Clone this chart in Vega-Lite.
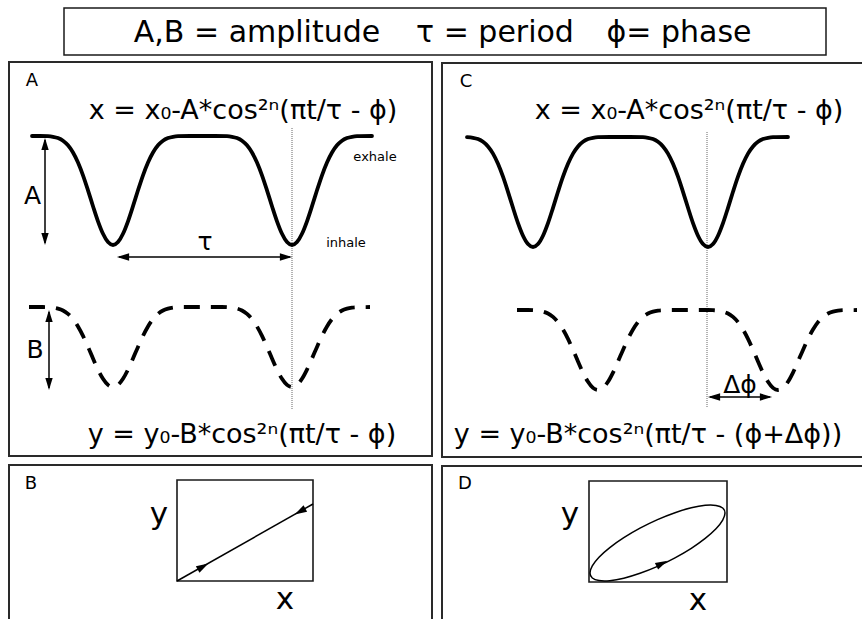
{
"$schema":"https://vega.github.io/schema/vega-lite/v6.json",
"width":862,"height":619,"padding":0,"autosize":{"type":"none"},
"background":"white",
"config":{"view":{"stroke":null}},
"datasets":{
"boxes":[
{"x":64,"y":8,"x2":826,"y2":55,"k":"title"},
{"x":9,"y":62,"x2":432,"y2":456,"k":"panel"},
{"x":442,"y":63,"x2":864,"y2":457,"k":"panel"},
{"x":9,"y":465,"x2":432,"y2":630,"k":"panel"},
{"x":442,"y":466,"x2":864,"y2":630,"k":"panel"},
{"x":177,"y":480,"x2":313,"y2":581,"k":"inner"},
{"x":589,"y":481,"x2":727,"y2":582,"k":"inner"}
],
"curves":[
{"c":"A","x":32,"y":136},{"c":"A","x":40,"y":136},{"c":"A","x":48,"y":136.2},{"c":"A","x":53,"y":136.8},{"c":"A","x":58,"y":138.1},{"c":"A","x":63,"y":140.7},{"c":"A","x":68,"y":145.3},{"c":"A","x":73,"y":152.5},{"c":"A","x":78,"y":162.5},{"c":"A","x":83,"y":175.3},{"c":"A","x":88,"y":190.3},{"c":"A","x":93,"y":206.2},{"c":"A","x":98,"y":221.3},{"c":"A","x":103,"y":233.8},{"c":"A","x":108,"y":242.1},{"c":"A","x":113,"y":245},{"c":"A","x":118,"y":242.1},{"c":"A","x":123,"y":233.8},{"c":"A","x":128,"y":221.3},{"c":"A","x":133,"y":206.2},{"c":"A","x":138,"y":190.3},{"c":"A","x":143,"y":175.3},{"c":"A","x":148,"y":162.5},{"c":"A","x":153,"y":152.5},{"c":"A","x":158,"y":145.3},{"c":"A","x":163,"y":140.7},{"c":"A","x":168,"y":138.1},{"c":"A","x":173,"y":136.8},{"c":"A","x":178,"y":136.2},{"c":"A","x":190,"y":136},{"c":"A","x":215,"y":136},{"c":"A","x":227,"y":136.2},{"c":"A","x":232,"y":136.8},{"c":"A","x":237,"y":138.1},{"c":"A","x":242,"y":140.7},{"c":"A","x":247,"y":145.3},{"c":"A","x":252,"y":152.5},{"c":"A","x":257,"y":162.5},{"c":"A","x":262,"y":175.3},{"c":"A","x":267,"y":190.3},{"c":"A","x":272,"y":206.2},{"c":"A","x":277,"y":221.3},{"c":"A","x":282,"y":233.8},{"c":"A","x":287,"y":242.1},{"c":"A","x":292,"y":245},{"c":"A","x":297,"y":242.1},{"c":"A","x":302,"y":233.8},{"c":"A","x":307,"y":221.3},{"c":"A","x":312,"y":206.2},{"c":"A","x":317,"y":190.3},{"c":"A","x":322,"y":175.3},{"c":"A","x":327,"y":162.5},{"c":"A","x":332,"y":152.5},{"c":"A","x":337,"y":145.3},{"c":"A","x":342,"y":140.7},{"c":"A","x":347,"y":138.1},{"c":"A","x":352,"y":136.8},{"c":"A","x":357,"y":136.2},{"c":"A","x":372,"y":136},
{"c":"C","x":467,"y":137.2},{"c":"C","x":473,"y":137.8},{"c":"C","x":478,"y":139.1},{"c":"C","x":483,"y":141.8},{"c":"C","x":488,"y":146.4},{"c":"C","x":493,"y":153.6},{"c":"C","x":498,"y":163.8},{"c":"C","x":503,"y":176.7},{"c":"C","x":508,"y":191.8},{"c":"C","x":513,"y":207.8},{"c":"C","x":518,"y":223.1},{"c":"C","x":523,"y":235.7},{"c":"C","x":528,"y":244.1},{"c":"C","x":533,"y":247},{"c":"C","x":538,"y":244.1},{"c":"C","x":543,"y":235.7},{"c":"C","x":548,"y":223.1},{"c":"C","x":553,"y":207.8},{"c":"C","x":558,"y":191.8},{"c":"C","x":563,"y":176.7},{"c":"C","x":568,"y":163.8},{"c":"C","x":573,"y":153.6},{"c":"C","x":578,"y":146.4},{"c":"C","x":583,"y":141.8},{"c":"C","x":588,"y":139.1},{"c":"C","x":593,"y":137.8},{"c":"C","x":598,"y":137.2},{"c":"C","x":610,"y":137},{"c":"C","x":630,"y":137},{"c":"C","x":643,"y":137.2},{"c":"C","x":648,"y":137.8},{"c":"C","x":653,"y":139.1},{"c":"C","x":658,"y":141.8},{"c":"C","x":663,"y":146.4},{"c":"C","x":668,"y":153.6},{"c":"C","x":673,"y":163.8},{"c":"C","x":678,"y":176.7},{"c":"C","x":683,"y":191.8},{"c":"C","x":688,"y":207.8},{"c":"C","x":693,"y":223.1},{"c":"C","x":698,"y":235.7},{"c":"C","x":703,"y":244.1},{"c":"C","x":708,"y":247},{"c":"C","x":713,"y":244.1},{"c":"C","x":718,"y":235.7},{"c":"C","x":723,"y":223.1},{"c":"C","x":728,"y":207.8},{"c":"C","x":733,"y":191.8},{"c":"C","x":738,"y":176.7},{"c":"C","x":743,"y":163.8},{"c":"C","x":748,"y":153.6},{"c":"C","x":753,"y":146.4},{"c":"C","x":758,"y":141.8},{"c":"C","x":763,"y":139.1},{"c":"C","x":768,"y":137.8},{"c":"C","x":773,"y":137.2},{"c":"C","x":788,"y":137},
{"c":"Ad","x":29,"y":307},{"c":"Ad","x":43,"y":307},{"c":"Ad","x":48,"y":307.2},{"c":"Ad","x":53,"y":307.6},{"c":"Ad","x":58,"y":308.6},{"c":"Ad","x":63,"y":310.5},{"c":"Ad","x":68,"y":313.9},{"c":"Ad","x":73,"y":319.1},{"c":"Ad","x":78,"y":326.5},{"c":"Ad","x":83,"y":335.9},{"c":"Ad","x":88,"y":346.9},{"c":"Ad","x":93,"y":358.5},{"c":"Ad","x":98,"y":369.6},{"c":"Ad","x":103,"y":378.8},{"c":"Ad","x":108,"y":384.9},{"c":"Ad","x":113,"y":387},{"c":"Ad","x":118,"y":384.9},{"c":"Ad","x":123,"y":378.8},{"c":"Ad","x":128,"y":369.6},{"c":"Ad","x":133,"y":358.5},{"c":"Ad","x":138,"y":346.9},{"c":"Ad","x":143,"y":335.9},{"c":"Ad","x":148,"y":326.5},{"c":"Ad","x":153,"y":319.1},{"c":"Ad","x":158,"y":313.9},{"c":"Ad","x":163,"y":310.5},{"c":"Ad","x":168,"y":308.6},{"c":"Ad","x":173,"y":307.6},{"c":"Ad","x":178,"y":307.2},{"c":"Ad","x":183,"y":307},{"c":"Ad","x":222,"y":307},{"c":"Ad","x":227,"y":307.2},{"c":"Ad","x":232,"y":307.6},{"c":"Ad","x":237,"y":308.6},{"c":"Ad","x":242,"y":310.5},{"c":"Ad","x":247,"y":313.9},{"c":"Ad","x":252,"y":319.1},{"c":"Ad","x":257,"y":326.5},{"c":"Ad","x":262,"y":335.9},{"c":"Ad","x":267,"y":346.9},{"c":"Ad","x":272,"y":358.5},{"c":"Ad","x":277,"y":369.6},{"c":"Ad","x":282,"y":378.8},{"c":"Ad","x":287,"y":384.9},{"c":"Ad","x":292,"y":387},{"c":"Ad","x":297,"y":384.9},{"c":"Ad","x":302,"y":378.8},{"c":"Ad","x":307,"y":369.6},{"c":"Ad","x":312,"y":358.5},{"c":"Ad","x":317,"y":346.9},{"c":"Ad","x":322,"y":335.9},{"c":"Ad","x":327,"y":326.5},{"c":"Ad","x":332,"y":319.1},{"c":"Ad","x":337,"y":313.9},{"c":"Ad","x":342,"y":310.5},{"c":"Ad","x":347,"y":308.6},{"c":"Ad","x":352,"y":307.6},{"c":"Ad","x":357,"y":307.2},{"c":"Ad","x":370,"y":307},
{"c":"Cd","x":517,"y":310},{"c":"Cd","x":528,"y":310},{"c":"Cd","x":533,"y":310.2},{"c":"Cd","x":538,"y":310.6},{"c":"Cd","x":543,"y":311.6},{"c":"Cd","x":548,"y":313.5},{"c":"Cd","x":553,"y":316.9},{"c":"Cd","x":558,"y":322.1},{"c":"Cd","x":563,"y":329.5},{"c":"Cd","x":568,"y":338.9},{"c":"Cd","x":573,"y":349.9},{"c":"Cd","x":578,"y":361.5},{"c":"Cd","x":583,"y":372.6},{"c":"Cd","x":588,"y":381.8},{"c":"Cd","x":593,"y":387.9},{"c":"Cd","x":598,"y":390},{"c":"Cd","x":603,"y":387.9},{"c":"Cd","x":608,"y":381.8},{"c":"Cd","x":613,"y":372.6},{"c":"Cd","x":618,"y":361.5},{"c":"Cd","x":623,"y":349.9},{"c":"Cd","x":628,"y":338.9},{"c":"Cd","x":633,"y":329.5},{"c":"Cd","x":638,"y":322.1},{"c":"Cd","x":643,"y":316.9},{"c":"Cd","x":648,"y":313.5},{"c":"Cd","x":653,"y":311.6},{"c":"Cd","x":658,"y":310.6},{"c":"Cd","x":663,"y":310.2},{"c":"Cd","x":668,"y":310},{"c":"Cd","x":688,"y":310},{"c":"Cd","x":708,"y":310},{"c":"Cd","x":713,"y":310.2},{"c":"Cd","x":718,"y":310.6},{"c":"Cd","x":723,"y":311.6},{"c":"Cd","x":728,"y":313.5},{"c":"Cd","x":733,"y":316.9},{"c":"Cd","x":738,"y":322.1},{"c":"Cd","x":743,"y":329.5},{"c":"Cd","x":748,"y":338.9},{"c":"Cd","x":753,"y":349.9},{"c":"Cd","x":758,"y":361.5},{"c":"Cd","x":763,"y":372.6},{"c":"Cd","x":768,"y":381.8},{"c":"Cd","x":773,"y":387.9},{"c":"Cd","x":778,"y":390},{"c":"Cd","x":783,"y":387.9},{"c":"Cd","x":788,"y":381.8},{"c":"Cd","x":793,"y":372.6},{"c":"Cd","x":798,"y":361.5},{"c":"Cd","x":803,"y":349.9},{"c":"Cd","x":808,"y":338.9},{"c":"Cd","x":813,"y":329.5},{"c":"Cd","x":818,"y":322.1},{"c":"Cd","x":823,"y":316.9},{"c":"Cd","x":828,"y":313.5},{"c":"Cd","x":833,"y":311.6},{"c":"Cd","x":838,"y":310.6},{"c":"Cd","x":843,"y":310.2},{"c":"Cd","x":857,"y":310}
],
"ellipse":[
{"k":0,"x":590,"y":573},{"k":1,"x":592.3,"y":578},{"k":2,"x":599,"y":580.6},{"k":3,"x":609.8,"y":580.7},{"k":4,"x":623.8,"y":578.2},{"k":5,"x":640,"y":573.3},{"k":6,"x":657.5,"y":566.4},{"k":7,"x":675,"y":557.8},{"k":8,"x":691.3,"y":548.3},{"k":9,"x":705.2,"y":538.4},{"k":10,"x":716,"y":528.8},{"k":11,"x":722.7,"y":520.1},{"k":12,"x":725,"y":513.1},{"k":13,"x":722.7,"y":508},{"k":14,"x":716,"y":505.4},{"k":15,"x":705.2,"y":505.3},{"k":16,"x":691.3,"y":507.8},{"k":17,"x":675,"y":512.7},{"k":18,"x":657.5,"y":519.6},{"k":19,"x":640,"y":528.2},{"k":20,"x":623.8,"y":537.7},{"k":21,"x":609.8,"y":547.6},{"k":22,"x":599,"y":557.2},{"k":23,"x":592.3,"y":565.9}
],
"rules":[
{"x":45,"y":140,"x2":45,"y2":243,"k":"arrow"},
{"x":49,"y":312,"x2":49,"y2":388,"k":"arrow"},
{"x":119,"y":257,"x2":290,"y2":257,"k":"arrow"},
{"x":710,"y":397,"x2":770,"y2":397,"k":"arrow"},
{"x":177,"y":581,"x2":313,"y2":504,"k":"arrow"},
{"x":292,"y":128,"x2":292,"y2":410,"k":"dotted"},
{"x":707,"y":132,"x2":707,"y2":407,"k":"dotted"}
],
"heads":[
{"x":45,"y":144,"dir":"up"},{"x":45,"y":239,"dir":"down"},
{"x":49,"y":316,"dir":"up"},{"x":49,"y":384,"dir":"down"},
{"x":123,"y":257,"dir":"left"},{"x":286,"y":257,"dir":"right"},
{"x":714,"y":397,"dir":"left"},{"x":766,"y":397,"dir":"right"},
{"x":203,"y":566.5,"dir":"ne"},{"x":300,"y":511.5,"dir":"sw"},
{"x":662,"y":563.5,"dir":"ne2"}
],
"labels":[
{"x":257,"y":33,"t":"A,B = amplitude","r":"title"},
{"x":495,"y":33,"t":"τ = period","r":"title"},
{"x":679,"y":33,"t":"ϕ= phase","r":"title"},
{"x":243,"y":111,"t":"x = x₀-A*cos²ⁿ(πt/τ - ϕ)","r":"formula"},
{"x":242,"y":435,"t":"y = y₀-B*cos²ⁿ(πt/τ - ϕ)","r":"formula"},
{"x":689,"y":111,"t":"x = x₀-A*cos²ⁿ(πt/τ - ϕ)","r":"formula"},
{"x":648,"y":435,"t":"y = y₀-B*cos²ⁿ(πt/τ - (ϕ+Δϕ))","r":"formula"},
{"x":32,"y":81,"t":"A","r":"panel"},
{"x":466,"y":82,"t":"C","r":"panel"},
{"x":31,"y":484,"t":"B","r":"panel"},
{"x":465,"y":484,"t":"D","r":"panel"},
{"x":32.5,"y":196,"t":"A","r":"amp"},
{"x":35,"y":350,"t":"B","r":"amp"},
{"x":205,"y":242,"t":"τ","r":"amp"},
{"x":740,"y":385,"t":"Δϕ","r":"amp"},
{"x":375,"y":157,"t":"exhale","r":"note"},
{"x":346,"y":243,"t":"inhale","r":"note"},
{"x":159,"y":515,"t":"y","r":"axis"},
{"x":285,"y":600,"t":"x","r":"axis"},
{"x":570,"y":515,"t":"y","r":"axis"},
{"x":698,"y":601,"t":"x","r":"axis"}
]
},
"encoding":{
"x":{"field":"x","type":"quantitative","scale":{"domain":[0,862],"nice":false,"zero":false},"axis":null},
"y":{"field":"y","type":"quantitative","scale":{"domain":[0,619],"nice":false,"zero":false,"reverse":true},"axis":null}
},
"layer":[
{"data":{"name":"boxes"},"transform":[{"filter":"datum.k == 'title'"}],
 "mark":{"type":"rect","filled":false,"stroke":"#1a1a1a","strokeWidth":1.5},
 "encoding":{"x2":{"field":"x2"},"y2":{"field":"y2"}}},
{"data":{"name":"boxes"},"transform":[{"filter":"datum.k == 'panel'"}],
 "mark":{"type":"rect","filled":false,"stroke":"#2a2a2a","strokeWidth":2},
 "encoding":{"x2":{"field":"x2"},"y2":{"field":"y2"}}},
{"data":{"name":"boxes"},"transform":[{"filter":"datum.k == 'inner'"}],
 "mark":{"type":"rect","filled":false,"stroke":"#1a1a1a","strokeWidth":1.6},
 "encoding":{"x2":{"field":"x2"},"y2":{"field":"y2"}}},
{"data":{"name":"rules"},"transform":[{"filter":"datum.k == 'dotted'"}],
 "mark":{"type":"rule","stroke":"#666","strokeWidth":1,"strokeDash":[1,1]},
 "encoding":{"x2":{"field":"x2"},"y2":{"field":"y2"}}},
{"data":{"name":"rules"},"transform":[{"filter":"datum.k == 'arrow'"}],
 "mark":{"type":"rule","stroke":"#000","strokeWidth":1.5},
 "encoding":{"x2":{"field":"x2"},"y2":{"field":"y2"}}},
{"data":{"name":"curves"},"transform":[{"filter":"datum.c == 'A' || datum.c == 'C'"}],
 "mark":{"type":"line","stroke":"#000","strokeWidth":3.8,"interpolate":"monotone","strokeCap":"round"},
 "encoding":{"detail":{"field":"c"}}},
{"data":{"name":"curves"},"transform":[{"filter":"datum.c == 'Ad' || datum.c == 'Cd'"}],
 "mark":{"type":"line","stroke":"#000","strokeWidth":3.8,"interpolate":"monotone","strokeDash":[16,11],"strokeCap":"butt"},
 "encoding":{"detail":{"field":"c"}}},
{"data":{"name":"ellipse"},
 "mark":{"type":"line","stroke":"#000","strokeWidth":1.5,"interpolate":"cardinal-closed"},
 "encoding":{"order":{"field":"k","type":"quantitative"}}},
{"data":{"name":"heads"},
 "mark":{"type":"point","filled":true,"fill":"#000","stroke":null,"opacity":1,"size":150},
 "encoding":{"shape":{"field":"dir","type":"nominal","legend":null,
   "scale":{"domain":["right","left","up","down","ne","sw","ne2"],
   "range":["M1,0L-1,-0.6L-1,0.6Z","M-1,0L1,-0.6L1,0.6Z","M0,-1L-0.6,1L0.6,1Z","M0,1L-0.6,-1L0.6,-1Z","M0.87,-0.492L-0.575,1.014L-1.165,-0.03Z","M-0.87,0.492L0.575,-1.014L1.165,0.03Z","M0.899,-0.438L-0.636,0.977L-1.162,-0.101Z"]}}}},
{"data":{"name":"labels"},"transform":[{"filter":"datum.r == 'title'"}],
 "mark":{"type":"text","font":"DejaVu Sans","fontSize":30,"align":"center","baseline":"middle","fill":"#000"},
 "encoding":{"text":{"field":"t"}}},
{"data":{"name":"labels"},"transform":[{"filter":"datum.r == 'formula'"}],
 "mark":{"type":"text","font":"DejaVu Sans","fontSize":27,"align":"center","baseline":"middle","fill":"#000"},
 "encoding":{"text":{"field":"t"}}},
{"data":{"name":"labels"},"transform":[{"filter":"datum.r == 'panel'"}],
 "mark":{"type":"text","font":"DejaVu Sans","fontSize":18,"align":"center","baseline":"middle","fill":"#000"},
 "encoding":{"text":{"field":"t"}}},
{"data":{"name":"labels"},"transform":[{"filter":"datum.r == 'amp'"}],
 "mark":{"type":"text","font":"DejaVu Sans","fontSize":25,"align":"center","baseline":"middle","fill":"#000"},
 "encoding":{"text":{"field":"t"}}},
{"data":{"name":"labels"},"transform":[{"filter":"datum.r == 'note'"}],
 "mark":{"type":"text","font":"DejaVu Sans","fontSize":13,"align":"center","baseline":"middle","fill":"#000"},
 "encoding":{"text":{"field":"t"}}},
{"data":{"name":"labels"},"transform":[{"filter":"datum.r == 'axis'"}],
 "mark":{"type":"text","font":"DejaVu Sans","fontSize":31,"align":"center","baseline":"middle","fill":"#000"},
 "encoding":{"text":{"field":"t"}}}
]
}
